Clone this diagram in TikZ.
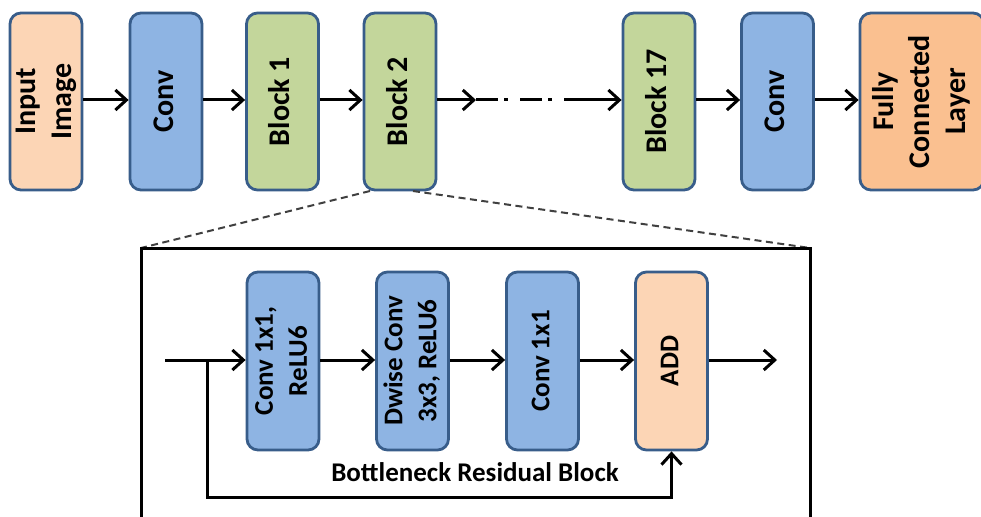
\documentclass[tikz,border=0pt]{standalone}
\usepackage{fontspec}
\setmainfont{Carlito}
\usetikzlibrary{arrows.meta}
\definecolor{peach}{HTML}{FCD5B5}
\definecolor{bluebox}{HTML}{8EB4E3}
\definecolor{greenbox}{HTML}{C3D69B}
\definecolor{orangebox}{HTML}{FAC090}
\definecolor{edgeblue}{HTML}{385D8A}
\tikzset{
  blk/.style={draw=edgeblue, line width=2.8pt, rounded corners=11pt, minimum width=72pt, minimum height=177pt, inner sep=0pt, font=\fontsize{30}{36}\selectfont\bfseries},
  iblk/.style={blk, minimum width=72pt, minimum height=178pt, font=\fontsize{27}{34}\selectfont\bfseries},
  arr/.style={line width=3pt, -{Straight Barb[length=11pt,width=20pt,line width=3pt]}},
  zoomline/.style={draw=black!75, line width=2pt, dash pattern=on 7pt off 4.5pt},
}
\newcommand{\vtext}[1]{\rotatebox{90}{\begin{tabular}{@{}c@{}}#1\end{tabular}}}
\begin{document}
\begin{tikzpicture}[x=1pt,y=-1pt]
\clip (0,0) rectangle (981,516);
\fill[white] (0,0) rectangle (981,516);
% top row
\node[blk, fill=peach] (inp) at (46,101.5) {\vtext{Input\\Image}};
\node[blk, fill=bluebox] (conva) at (166,101.5) {\vtext{Conv}};
\node[blk, fill=greenbox] (b1) at (282.5,101.5) {\vtext{Block 1}};
\node[blk, fill=greenbox] (b2) at (400,101.5) {\vtext{Block 2}};
\node[blk, fill=greenbox] (b17) at (659,101.5) {\vtext{Block 17}};
\node[blk, fill=bluebox] (convb) at (777.5,101.5) {\vtext{Conv}};
\node[blk, fill=orangebox, minimum width=124pt] (fc) at (922,101.5) {\vtext{Fully\\Connected\\Layer}};
\coordinate (m1) at (476,100);
\coordinate (m2) at (566,100);
\draw[arr] (inp.east |- 0,100) -- (conva.west |- 0,100);
\draw[arr] (conva.east |- 0,100) -- (b1.west |- 0,100);
\draw[arr] (b1.east |- 0,100) -- (b2.west |- 0,100);
\draw[arr] (b2.east |- 0,100) -- (m1);
\draw[line width=3pt, dash pattern=on 22pt off 6pt on 4pt off 12pt] (m1) -- (m2);
\draw[arr] (m2) -- (b17.west |- 0,100);
\draw[arr] (b17.east |- 0,100) -- (convb.west |- 0,100);
\draw[arr] (convb.east |- 0,100) -- (fc.west |- 0,100);
% zoom frame
\coordinate (fl) at (141,248);
\coordinate (fr) at (810,248);
\coordinate (zl) at (370,191);
\coordinate (zr) at (413,191);
\draw[zoomline] (zl) -- (fl);
\draw[zoomline] (zr) -- (fr);
\draw[line width=3pt] (141,530) -- (fl) -- (fr) -- (810,530);
% inner blocks
\node[iblk, fill=bluebox] (c11) at (283,361) {\vtext{Conv 1x1,\\ReLU6}};
\node[iblk, fill=bluebox] (dw) at (412.5,361) {\vtext{Dwise Conv\\3x3, ReLU6}};
\node[iblk, fill=bluebox] (c1) at (542.5,361) {\vtext{Conv 1x1}};
\node[iblk, fill=peach] (add) at (671.5,361) {\vtext{ADD}};
\coordinate (inn) at (165,360);
\coordinate (split) at (207,360);
\coordinate (skipb) at (207,497);
\coordinate (outt) at (777,360);
\draw[arr] (inn) -- (c11.west |- 0,360);
\draw[arr] (c11.east |- 0,360) -- (dw.west |- 0,360);
\draw[arr] (dw.east |- 0,360) -- (c1.west |- 0,360);
\draw[arr] (c1.east |- 0,360) -- (add.west |- 0,360);
\draw[arr] (add.east |- 0,360) -- (outt);
\draw[arr] (split) -- (skipb) -| (add.south);
\node[font=\fontsize{27}{30}\selectfont\bfseries] (lbl) at (475,472) {Bottleneck Residual Block};
\end{tikzpicture}
\end{document}
